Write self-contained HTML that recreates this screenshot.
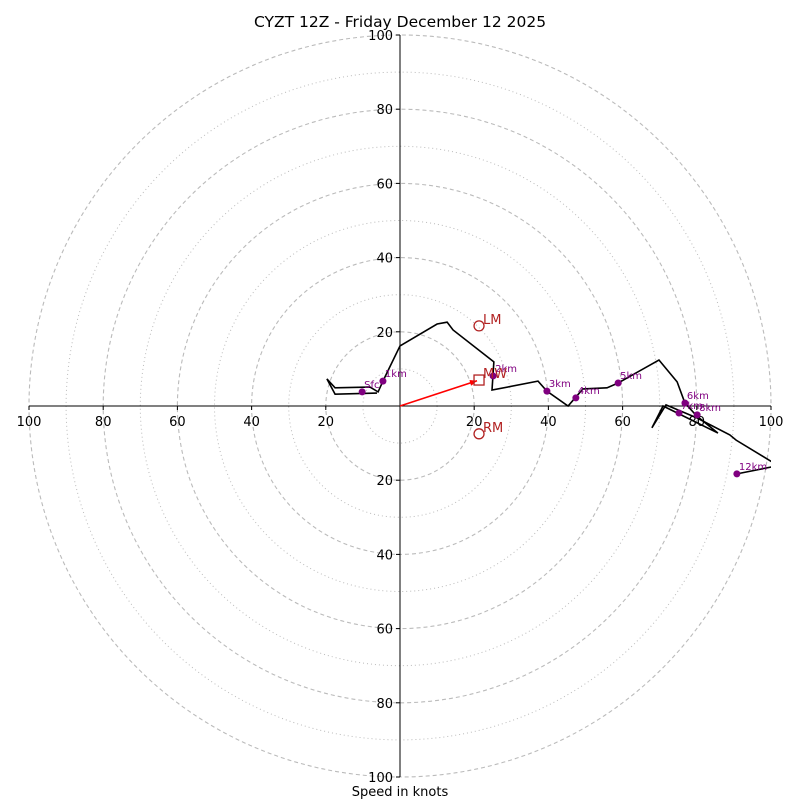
<!DOCTYPE html>
<html><head><meta charset="utf-8"><style>
body{margin:0;background:#fff}
svg{display:block;font-family:"DejaVu Sans","Liberation Sans",sans-serif}
</style></head><body>
<svg id="chart" width="800" height="800" viewBox="0 0 800 800" xmlns="http://www.w3.org/2000/svg">
<text x="400" y="27" text-anchor="middle" font-size="15.5">CYZT 12Z - Friday December 12 2025</text>
<text x="400" y="796" text-anchor="middle" font-size="13">Speed in knots</text>
<defs><clipPath id="clip"><rect x="29" y="35" width="742" height="742"/></clipPath></defs>
<g id="rings"></g>
<g id="axes"></g>
<g id="plot" clip-path="url(#clip)"></g>
</svg>
<script>
const ringValues=[10,20,30,40,50,60,70,80,90,100];
const tickValues=[20,40,60,80,100];
const hodoU=[-6.2,-17.5,-19.7,-17.5,-8.1,-5.9,-4.6,0,10,12.7,14.3,25.3,24.8,37.2,39.6,45.3,49.3,55.8,58.8,69.8,74.7,76.8,80,85.7,70.9,67.9,71.7,80,88.9,90.6,100.3,104,100.3,90.8];
const hodoV=[3.5,3.2,7.3,4.9,5.1,3.8,6.7,16.2,22.1,22.6,20.5,11.9,4.3,6.7,4.0,0,4.6,4.9,6.2,12.4,6.5,0.8,-2.7,-7.3,0,-5.9,0.3,-3.2,-7.8,-9.2,-15.1,-17,-16.4,-18.3];
const markerLabels=["Sfc","1km","2km","3km","4km","5km","6km","7km","8km","12km"];
const markerU=[-10.2,-4.6,25.1,39.6,47.4,58.8,76.8,75.2,80.1,90.8];
const markerV=[3.8,6.7,8.1,4.0,2.2,6.2,0.8,-1.9,-2.4,-18.3];
const motionLabels=["LM","MW","RM"];
const motionU=[21.3,21.3,21.3];
const motionV=[21.6,7.0,-7.5];
const motionShape=["circle","square","circle"];

const NS="http://www.w3.org/2000/svg";
const CX=400,CY=406,S=3.71;
const sx=u=>CX+u*S, sy=v=>CY-v*S;
function mk(tag,attrs,parent){const e=document.createElementNS(NS,tag);for(const k in attrs)e.setAttribute(k,attrs[k]);parent.appendChild(e);return e;}
const rings=document.getElementById('rings'),axes=document.getElementById('axes'),plot=document.getElementById('plot');
ringValues.forEach(r=>{
  const c=mk('circle',{cx:CX,cy:CY,r:r*S,fill:'none',stroke:'#bbb','stroke-width':r%20===0?1.1:1,'stroke-dasharray':r%20===0?'4,3':'1,3'},rings);
  
  
});
let l=mk('line',{x1:sx(-100),y1:CY,x2:sx(100),y2:CY,stroke:'#000','stroke-width':1},axes);


l=mk('line',{x1:CX,y1:sy(100),x2:CX,y2:sy(-100),stroke:'#000','stroke-width':1},axes);


tickValues.forEach(t=>{
  [t,-t].forEach(u=>{
    mk('line',{x1:sx(u),y1:CY,x2:sx(u),y2:CY+4,stroke:'#000'},axes);
    const tx=mk('text',{x:sx(u),y:CY+20,'text-anchor':'middle','font-size':13},axes);
    tx.textContent=t;
    
    
    mk('line',{x1:CX-4,y1:sy(u),x2:CX,y2:sy(u),stroke:'#000'},axes);
    const ty=mk('text',{x:CX-7,y:sy(u)+5,'text-anchor':'end','font-size':13},axes);
    ty.textContent=t;
    
    
  });
});
const pts=hodoU.map((u,i)=>sx(u)+','+sy(hodoV[i])).join(' ');
const pl=mk('polyline',{points:pts,fill:'none',stroke:'#000','stroke-width':1.6,'stroke-linejoin':'miter'},plot);


const ar=mk('line',{x1:CX,y1:CY,x2:sx(motionU[1])-2,y2:sy(motionV[1])+0.7,stroke:'#f00','stroke-width':1.6},plot);


const ax2=sx(motionU[1])-2,ay2=sy(motionV[1])+0.7,ang=Math.atan2(ay2-CY,ax2-CX);
const hp=[[ax2,ay2],[ax2-7*Math.cos(ang)+3*Math.sin(ang),ay2-7*Math.sin(ang)-3*Math.cos(ang)],[ax2-7*Math.cos(ang)-3*Math.sin(ang),ay2-7*Math.sin(ang)+3*Math.cos(ang)]];
const ah=mk('polygon',{points:hp.map(p=>p.join(',')).join(' '),fill:'#f00'},plot);


markerU.forEach((u,i)=>{
  const c=mk('circle',{cx:sx(u),cy:sy(markerV[i]),r:3.5,fill:'#800080'},plot);
  
  
  const t=mk('text',{x:sx(u)+2,y:sy(markerV[i])-4,'font-size':10,fill:'#800080'},plot);
  t.textContent=markerLabels[i];
  
  
});
motionU.forEach((u,i)=>{
  const x=sx(u),y=sy(motionV[i]);
  let m;
  if(motionShape[i]==='circle')m=mk('circle',{cx:x,cy:y,r:5,fill:'none',stroke:'#b22222','stroke-width':1.3},plot);
  else m=mk('rect',{x:x-5,y:y-5,width:10,height:10,fill:'none',stroke:'#b22222','stroke-width':1.3},plot);
  
  
  const t=mk('text',{x:x+4,y:y-2,'font-size':13,fill:'#b22222'},plot);
  t.textContent=motionLabels[i];
  
  
});
</script>
</body></html>
